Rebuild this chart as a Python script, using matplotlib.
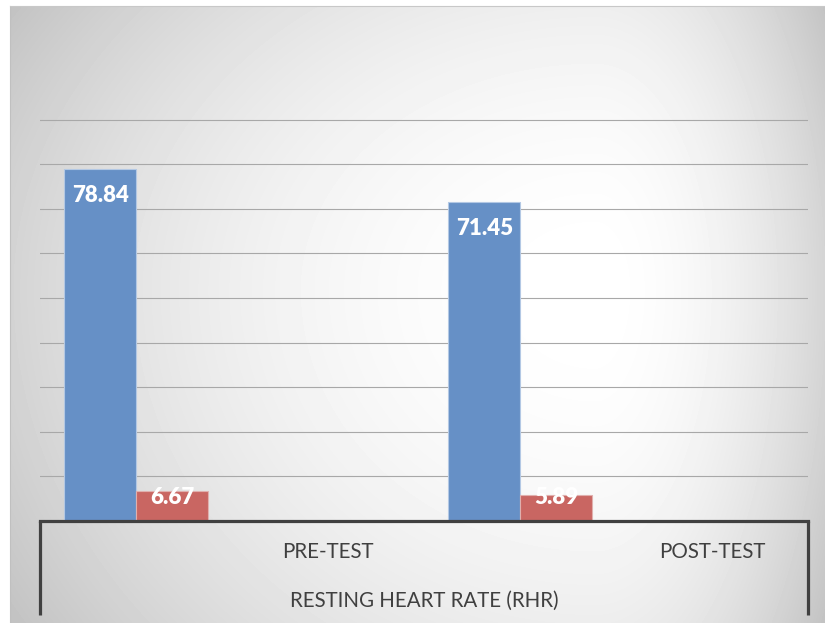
import numpy as np
import matplotlib
matplotlib.use("Agg")
import matplotlib.pyplot as plt
from matplotlib.lines import Line2D
import matplotlib.transforms as mtransforms

# ---- data ----
categories = ["PRE-TEST", "POST-TEST"]
group_title = "RESTING HEART RATE (RHR)"
mean_values = [78.84, 71.45]
sd_values = [6.67, 5.89]
grid_ticks = [10, 20, 30, 40, 50, 60, 70, 80, 90]

W, H = 825, 623
DPI = 100
fig = plt.figure(figsize=(W / DPI, H / DPI), dpi=DPI)
fig.patch.set_facecolor("white")


def fx(px):
    return px / W


def fy(py):
    return (H - py) / H


# ---- background gradient (chart area) ----
bx0, by0, bx1, by1 = 10, 6, 825, 623
bg_ax = fig.add_axes([fx(bx0), fy(by1), fx(bx1) - fx(bx0), fy(by0) - fy(by1)])
bg_ax.set_axis_off()
xs = np.arange(bx0, bx1) + 0.5
ys = np.arange(by0, by1) + 0.5
X, Y = np.meshgrid(xs, ys)
cx, cy = 595, 290
hx = np.where(X < cx, cx - bx0, 232)
hy = np.where(Y < cy, 450, 520)
r2 = ((X - cx) / hx) ** 2 + ((Y - cy) / hy) ** 2
val = np.clip(1 - 0.17 * r2, 0, 1)
bg_ax.imshow(val, cmap="gray", vmin=0, vmax=1, aspect="auto",
             extent=[0, 1, 0, 1], origin="upper", interpolation="bilinear")
bg_ax.set_xlim(0, 1)
bg_ax.set_ylim(0, 1)
fig.add_artist(Line2D([fx(bx0), fx(bx0)], [fy(by0), 0], color="#c0c0c0", lw=0.8))
fig.add_artist(Line2D([fx(bx0), 1], [fy(by0), fy(by0)], color="#c8c8c8", lw=0.8))

# ---- main axes ----
ax_left, ax_right, ax_top, ax_bottom = 40, 808, 6, 521
px_per_unit = 4.46
ax = fig.add_axes([fx(ax_left), fy(ax_bottom), fx(ax_right) - fx(ax_left), fy(ax_top) - fy(ax_bottom)])
ax.patch.set_alpha(0)
ax.set_xlim(0, len(categories))
ax.set_ylim(0, (ax_bottom - ax_top) / px_per_unit)
for s in ax.spines.values():
    s.set_visible(False)
ax.set_yticks(grid_ticks)
ax.yaxis.grid(True, color="#a8a8a8", linewidth=0.8)
ax.set_axisbelow(True)
ax.tick_params(left=False, bottom=False, labelleft=False, labelbottom=False)
ax.set_xticks([])

x = np.arange(len(categories))
bw = 0.1875
blue = "#6690c6"
red = "#c96662"
b1 = ax.bar(x + 0.157, mean_values, width=bw, color=blue, edgecolor="#b3c8e4", linewidth=0.8, zorder=3)
b2 = ax.bar(x + 0.345, sd_values, width=bw, color=red, edgecolor="#e0b0ae", linewidth=0.8, zorder=3)

lab_font = dict(family="Lato", weight="heavy", size=16, color="white")
for rect, v in zip(b1, mean_values):
    ax.annotate(f"{v:.2f}", (rect.get_x() + rect.get_width() / 2, v),
                xytext=(0, -26 * 72 / DPI), textcoords="offset points",
                ha="center", va="center", zorder=5, **lab_font)
for rect, v in zip(b2, sd_values):
    ax.annotate(f"{v:.2f}", (rect.get_x() + rect.get_width() / 2, 0),
                xytext=(0, 24 * 72 / DPI), textcoords="offset points",
                ha="center", va="center", zorder=5, **lab_font)

# ---- category axis (multi-level) ----
axis_col = "#404040"
lw_axis = 3.2 * 72 / DPI
fig.add_artist(Line2D([fx(ax_left), fx(ax_right)], [fy(ax_bottom), fy(ax_bottom)],
                      color=axis_col, lw=lw_axis, solid_capstyle="projecting", zorder=6))
for xp in (ax_left, ax_right):
    fig.add_artist(Line2D([fx(xp), fx(xp)], [fy(ax_bottom), fy(615)],
                          color=axis_col, lw=lw_axis, solid_capstyle="butt", zorder=6))

trans = mtransforms.blended_transform_factory(ax.transData, fig.transFigure)
txt_font = dict(family="Lato", size=14.8, color="#404040")
for i, c in enumerate(categories):
    ax.text(i + 0.75, fy(552), c, transform=trans, ha="center", va="center", **txt_font)
fig.text(fx((ax_left + ax_right) / 2), fy(601), group_title, ha="center", va="center", **txt_font)

fig.savefig("out.png", dpi=DPI)
